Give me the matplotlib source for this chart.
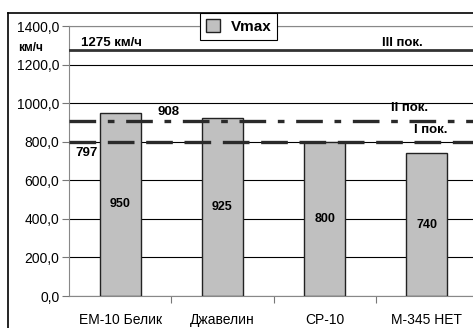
import matplotlib
matplotlib.use("Agg")
import matplotlib.pyplot as plt
from matplotlib.lines import Line2D
from matplotlib.ticker import FuncFormatter

plt.rcParams['font.family'] = ['Liberation Sans', 'DejaVu Sans']

# data
categories = ["ЕМ-10 Белик", "Джавелин", "СР-10", "М-345 НЕТ"]
vmax = [950, 925, 800, 740]
level_3 = 1275   # III пок.
level_2 = 908    # II пок.
level_1 = 797    # I пок.
y_ticks = [0, 200, 400, 600, 800, 1000, 1200, 1400]

W, H = 473, 328
fig = plt.figure(figsize=(W / 100, H / 100), dpi=100)
fig.patch.set_facecolor("white")

# plot area extends a bit past the right edge, like the original
ax = fig.add_axes([69 / W, 32 / H, 409 / W, 270 / H])
x = list(range(len(categories)))
bars = ax.bar(x, vmax, width=0.4, color="#c0c0c0", edgecolor="#222222",
              linewidth=1.0, zorder=3, label="Vmax")

ax.set_xlim(-0.5, len(categories) - 0.5)
ax.set_ylim(0, 1400)
ax.set_yticks(y_ticks)
ax.yaxis.set_major_formatter(FuncFormatter(lambda v, p: f"{v:.1f}".replace(".", ",")))
# ticks between categories, labels centred under the bars
ax.set_xticks([i + 0.5 for i in x[:-1]], minor=False)
ax.set_xticks(x, minor=True)
ax.set_xticklabels([], minor=False)
ax.set_xticklabels(categories, minor=True)
ax.tick_params(axis="x", which="minor", length=0, pad=12, labelsize=10)
ax.tick_params(axis="x", which="major", length=5, direction="out", color="#777777")
ax.tick_params(axis="y", length=5, direction="out", color="#777777", labelsize=10, pad=2)
ax.grid(axis="y", color="black", linewidth=0.8, zorder=0)
for s in ["left", "bottom", "top"]:
    ax.spines[s].set_color("#888888")
ax.spines["right"].set_visible(False)

# reference levels
ax.axhline(level_3, color="#333333", linewidth=2.0, zorder=4)
ax.axhline(level_2, color="#2a2a2a", linewidth=2.4, dashes=(8, 3.5, 2, 3.5), zorder=4)
ax.axhline(level_1, color="#2a2a2a", linewidth=2.4, dashes=(8, 3.5), zorder=4)

ax.text(-0.38, 1312, f"{level_3} км/ч", fontsize=9.5, fontweight="bold", va="center", ha="left", zorder=5)
ax.text(2.76, 1312, "III пок.", fontsize=9.5, fontweight="bold", va="center", ha="center", zorder=5)
ax.text(0.47, 955, str(level_2), fontsize=9.5, fontweight="bold", va="center", ha="center", zorder=5)
ax.text(-0.33, 740, str(level_1), fontsize=9.5, fontweight="bold", va="center", ha="center", zorder=5)
ax.text(2.83, 975, "II пок.", fontsize=9.5, fontweight="bold", va="center", ha="center", zorder=5)
ax.text(3.04, 862, "I пок.", fontsize=9.5, fontweight="bold", va="center", ha="center", zorder=5)

for b, v in zip(bars, vmax):
    ax.text(b.get_x() + b.get_width() / 2, v / 2, str(v), fontsize=9,
            fontweight="bold", ha="center", va="center", zorder=5)

fig.text(31 / W, 1 - 48 / H, "км/ч", fontsize=8.5, fontweight="bold", ha="center", va="center")

# legend
leg = fig.legend(handles=[bars], labels=["Vmax"], loc="upper left",
                 bbox_to_anchor=(200 / W, 1 - 13 / H), borderaxespad=0,
                 fancybox=False, edgecolor="black", framealpha=1,
                 prop={"weight": "bold", "size": 11}, handlelength=0.9,
                 handleheight=0.9, handletextpad=0.7, borderpad=0.4)
leg.get_frame().set_linewidth(0.8)

# outer chart frame (left and top edges visible)
fig.add_artist(Line2D([8 / W, 8 / W], [-0.01, 1 - 13 / H], color="black", linewidth=1.2, transform=fig.transFigure))
fig.add_artist(Line2D([8 / W, 1.01], [1 - 13 / H, 1 - 13 / H], color="black", linewidth=1.2, transform=fig.transFigure))

fig.savefig("out.png", dpi=100)
